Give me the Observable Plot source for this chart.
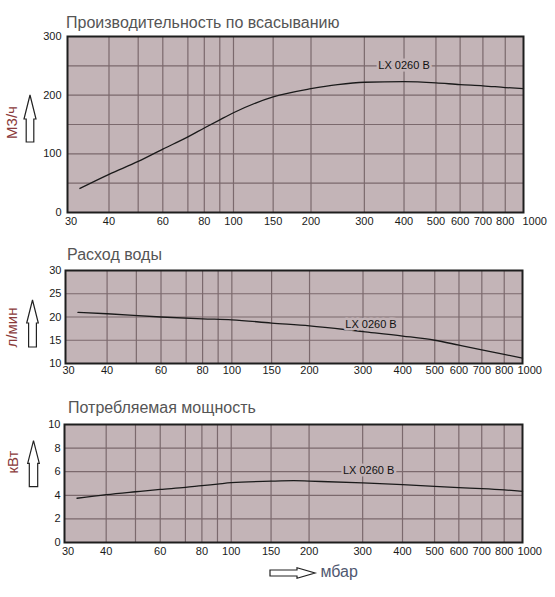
<!DOCTYPE html>
<html><head><meta charset="utf-8">
<script src="https://cdn.jsdelivr.net/npm/d3@7"></script>
<script src="https://cdn.jsdelivr.net/npm/@observablehq/plot@0.6"></script>
<style>
body{margin:0;background:#fff;}
#wrap{position:relative;width:555px;height:597px;font-family:"Liberation Sans",Arial,sans-serif;}
#wrap svg{position:absolute;left:0;}
</style></head><body><div id="wrap"></div>
<script>
// x axis (pressure, mbar)
const pressureTicks = [30,40,60,80,100,150,200,300,400,500,600,700,800,1000];
const pressureGrid = [40,50,60,70,80,90,100,150,200,300,400,500,600,700,800];
const axisStops = [30,40,50,60,70,80,90,100,150,200,300,400,500,600,700,800,1000];
const axisFrac  = [0,0.091,0.155,0.209,0.264,0.300,0.334,0.364,0.451,0.534,0.651,0.738,0.808,0.861,0.911,0.960,1];

// Suction capacity, m3/h
const flowP = [33,40,50,60,70,80,90,100,150,200,250,300,400,500,600,700,800,1000];
const flowV = [41,65,87,108,129,144,158,170,197,211,218,222,223,221,218,216,213,211];
const flowTicks = [0,100,200,300];
const flowGrid = [50,100,150,200,250];
const flowLabel = {p:400, v:250};

// Water consumption, l/min
const waterP = [33,40,60,80,100,150,200,300,400,500,600,700,800,1000];
const waterV = [21.0,20.7,20.0,19.6,19.4,18.7,18.1,16.85,15.9,15.0,13.95,12.95,11.95,11.15];
const waterTicks = [10,15,20,25,30];
const waterGrid = [15,20,25];
const waterLabel = {p:320, v:18.4};

// Power consumption, kW
const powerP = [33,40,50,60,70,80,90,100,150,180,200,300,400,500,600,700,800,1000];
const powerV = [3.75,4.05,4.3,4.5,4.67,4.82,4.95,5.07,5.2,5.24,5.2,5.05,4.9,4.76,4.65,4.57,4.46,4.33];
const powerTicks = [0,2,4,6,8,10];
const powerGrid = [2,4,6,8];
const powerLabel = {p:315, v:6.08};

const curveName = "LX 0260 B";
const titles = ["Производительность по всасыванию","Расход воды","Потребляемая мощность"];
const yUnits = ["М3/ч","л/мин","кВт"];
const xUnit = "мбар";

const BG = "#c3b4b7", GRID = "#7b696d", INK = "#1a1a1a";
const W = 555;
const wrap = document.getElementById("wrap");

function panel(o) {
  const inner = W - o.ml - o.mr;
  const range = axisFrac.map(f => o.ml + f * inner);
  const data = o.px.map((p, i) => ({p, v: o.py[i]}));
  const axOpts = {tickSize: 0, tickPadding: o.xPad, tickFormat: d => String(d), label: null, fontSize: 11, fill: INK};
  const svg = Plot.plot({
    width: W, height: o.height,
    marginTop: o.mt, marginBottom: o.mb, marginLeft: o.ml, marginRight: o.mr,
    style: {fontFamily: "Liberation Sans, Arial, sans-serif", fontSize: "11px", color: INK, background: "transparent", overflow: "visible"},
    x: {type: "linear", domain: axisStops, range},
    y: {domain: o.yDomain},
    marks: [
      Plot.frame({fill: BG}),
      Plot.gridX({ticks: pressureGrid, stroke: GRID, strokeOpacity: 1, strokeWidth: 1.2}),
      Plot.gridY({ticks: o.yGrid, stroke: GRID, strokeOpacity: 1, strokeWidth: 1.2}),
      Plot.line(data, {x: "p", y: "v", curve: "monotone-x", stroke: INK, strokeWidth: 1.3}),
      Plot.text([o.lab], {x: "p", y: "v", text: () => curveName, fontSize: 11, fill: "#111", stroke: BG, strokeWidth: 5}),
      Plot.frame({stroke: "#1e1e1e", strokeWidth: 2}),
      Plot.axisX({...axOpts, ticks: pressureTicks.slice(1, -1)}),
      Plot.axisX({...axOpts, ticks: [30], dx: o.firstDx}),
      Plot.axisX({...axOpts, ticks: [1000], textAnchor: "start", dx: o.lastDx}),
      Plot.axisY({ticks: o.yTicks, tickSize: 0, tickPadding: o.yPad, label: null, fontSize: 11, fill: INK})
    ]
  });
  svg.style.top = o.top + "px";
  wrap.appendChild(svg);
}

panel({top: 0, height: 234, mt: 36, mb: 22, ml: 67, mr: 32, yDomain: [0,300], yTicks: flowTicks, yGrid: flowGrid,
       px: flowP, py: flowV, lab: flowLabel, xPad: 5, yPad: 6, firstDx: 3.5, lastDx: -1});
panel({top: 240, height: 145, mt: 30, mb: 22, ml: 65, mr: 33, yDomain: [10,30], yTicks: waterTicks, yGrid: waterGrid,
       px: waterP, py: waterV, lab: waterLabel, xPad: 3, yPad: 4, firstDx: 3, lastDx: -5});
panel({top: 395, height: 169, mt: 29, mb: 22, ml: 64, mr: 33, yDomain: [0,10], yTicks: powerTicks, yGrid: powerGrid,
       px: powerP, py: powerV, lab: powerLabel, xPad: 5, yPad: 4, firstDx: 3.5, lastDx: -5});

// decorative overlay: titles, unit labels and arrows
const ov = d3.select(wrap).append("svg").attr("width", W).attr("height", 597)
  .style("top", "0px").style("pointer-events", "none")
  .attr("font-family", "Liberation Sans, Arial, sans-serif");
const titlePos = [[66, 28], [67, 260], [68, 413]];
titles.forEach((t, i) => ov.append("text").attr("x", titlePos[i][0]).attr("y", titlePos[i][1])
  .attr("font-size", 16).attr("fill", "#555").text(t));
const unitPos = [[17, 122.5], [17, 327.5], [18, 462]];
yUnits.forEach((t, i) => ov.append("text")
  .attr("transform", `translate(${unitPos[i][0]},${unitPos[i][1]}) rotate(-90)`)
  .attr("text-anchor", "middle").attr("font-size", 15).attr("fill", "#8a3a3a").text(t));
function upArrow(cx, tip, head, bot, hh, sh) {
  return `M${cx},${tip}L${cx+hh},${head}L${cx+sh},${head}L${cx+sh},${bot}L${cx-sh},${bot}L${cx-sh},${head}L${cx-hh},${head}Z`;
}
[[30,95,119,142,6,3.8],[32.5,300,323,347,5.8,3.9],[33.5,440.7,463.3,486.7,5.8,4.2]].forEach(a =>
  ov.append("path").attr("d", upArrow(...a)).attr("fill", "#fff").attr("stroke", "#222").attr("stroke-width", 1.2));
ov.append("path").attr("d", "M270,570L297,570L297,567.7L315,573L297,578.3L297,576L270,576Z")
  .attr("fill", "#fff").attr("stroke", "#222").attr("stroke-width", 1.2);
ov.append("text").attr("x", 320.5).attr("y", 577).attr("font-size", 16).attr("fill", "#505870").text(xUnit);
</script></body></html>
